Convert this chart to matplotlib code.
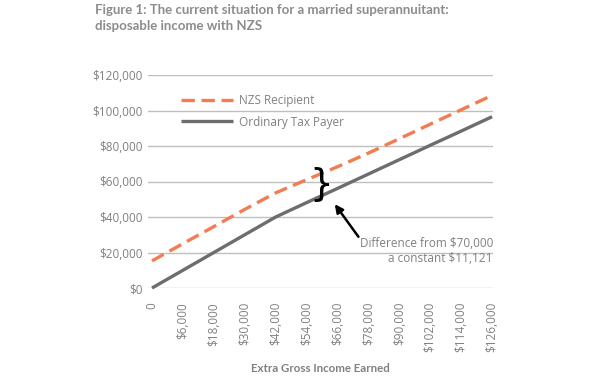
import matplotlib
matplotlib.use("Agg")
import matplotlib.pyplot as plt
from matplotlib.ticker import FuncFormatter

# ---- data ----
categories = ["0", "$6,000", "$18,000", "$30,000", "$42,000", "$54,000",
              "$66,000", "$78,000", "$90,000", "$102,000", "$114,000", "$126,000"]
nzs_recipient = [15300, 25000, 34600, 44300, 53600, 61000, 68300, 76000,
                 84100, 92300, 100400, 108500]
ordinary_tax_payer = [0, 10000, 20000, 30000, 40000, 48100, 56100, 64200,
                      72300, 80400, 88400, 96500]
y_ticks = [0, 20000, 40000, 60000, 80000, 100000, 120000]

title = "Figure 1: The current situation for a married superannuitant:\ndisposable income with NZS"
x_label = "Extra Gross Income Earned"
note = "Difference from $70,000\na constant $11,121"

ORANGE = "#F47C52"
GREY_LINE = "#6D6D6D"
TEXT = "#808080"
GRID = "#BFBFBF"

plt.rcParams['font.family'] = ['Open Sans', 'DejaVu Sans']

fig = plt.figure(figsize=(5.9, 3.8), dpi=100)
ax = fig.add_axes([148/590, 1-288/380, 345/590, 213/380])

x = list(range(len(categories)))
ax.plot(x, nzs_recipient, color=ORANGE, lw=2.4, dashes=(4, 2), label="NZS Recipient",
        clip_on=False, dash_capstyle='butt')
ax.plot(x, ordinary_tax_payer, color=GREY_LINE, lw=2.4, label="Ordinary Tax Payer",
        clip_on=False, solid_capstyle='butt')

ax.set_xlim(-0.13, 11.03)
ax.set_ylim(0, 120000)
ax.set_yticks(y_ticks)
ax.yaxis.set_major_formatter(FuncFormatter(lambda v, p: "${:,.0f}".format(v)))
ax.set_xticks(x)
ax.set_xticklabels(categories, rotation=90, va='top', ha='center')

for s in ax.spines.values():
    s.set_visible(False)
ax.grid(axis='y', color=GRID, lw=1.0)
ax.set_axisbelow(True)
ax.tick_params(axis='both', length=0, colors=TEXT, labelsize=8.5)
ax.tick_params(axis='y', pad=4)
ax.tick_params(axis='x', pad=10)

ax.set_xlabel(x_label, color=TEXT, fontsize=8.3, fontweight='bold', labelpad=8,
              family=['Lato', 'DejaVu Sans'])

leg = ax.legend(loc='upper left', bbox_to_anchor=(0.095, 0.912), frameon=False,
                fontsize=8.5, handlelength=4.4, handletextpad=0.55,
                labelspacing=0.75, borderpad=0, borderaxespad=0)
for t in leg.get_texts():
    t.set_color(TEXT)

# brace and annotation
ax.text(5.47, 58000, "}", fontsize=27, color="black", ha='center', va='center',
        family='DejaVu Sans')
ax.annotate("", xy=(5.86, 48500), xytext=(6.73, 27600),
            arrowprops=dict(arrowstyle='-|>', color='black', lw=1.8, mutation_scale=12))
ax.text(11.03, 20800, note, ha='right', va='center', fontsize=8.5, color=TEXT,
        linespacing=1.2)

fig.text(95/590, 1-4/380, title, ha='left', va='top', fontsize=9.5,
         fontweight='bold', color="#8C8C8C", linespacing=1.45,
         family=['Lato', 'DejaVu Sans'])

fig.savefig("out.png", dpi=100)
